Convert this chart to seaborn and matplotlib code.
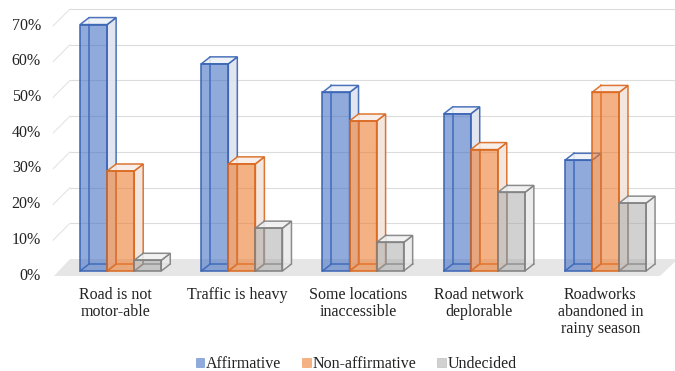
import numpy as np
import pandas as pd
import seaborn as sns
import matplotlib.pyplot as plt
from matplotlib.colors import to_rgb, to_rgba
from matplotlib.patches import Polygon, Patch
from matplotlib.lines import Line2D

# ---- data -------------------------------------------------------------
categories = [
    "Road is not\nmotor-able",
    "Traffic is heavy",
    "Some locations\ninaccessible",
    "Road network\ndeplorable",
    "Roadworks\nabandoned in\nrainy season",
]
responses = ["Affirmative", "Non-affirmative", "Undecided"]
affirmative = [69, 58, 50, 44, 31]
non_affirmative = [28, 30, 42, 34, 50]
undecided = [3, 12, 8, 22, 19]
y_ticks = [0, 10, 20, 30, 40, 50, 60, 70]
y_tick_labels = [f"{t}%" for t in y_ticks]

df = pd.DataFrame({
    "category": categories * 3,
    "response": [r for r in responses for _ in categories],
    "value": affirmative + non_affirmative + undecided,
})

# ---- style --------------------------------------------------------------
sns.set_theme(style="white")
plt.rcParams["font.family"] = ["Liberation Serif", "DejaVu Serif"]
FS = 11.5

base_colors = {"Affirmative": "#4472C4", "Non-affirmative": "#ED7D31", "Undecided": "#A5A5A5"}
edge_colors = {"Affirmative": "#3A64B4", "Non-affirmative": "#D9681F", "Undecided": "#808080"}
side_colors = {"Affirmative": "#DDE3EE", "Non-affirmative": "#F2E4DB", "Undecided": "#EAEAEA"}
top_colors = {"Affirmative": "#EEF1F7", "Non-affirmative": "#F8EEE8", "Undecided": "#F1F1F1"}
face_alpha = {"Affirmative": 0.6, "Non-affirmative": 0.6, "Undecided": 0.5}

W, H = 675, 371
fig = plt.figure(figsize=(W / 100, H / 100), dpi=100)
# axes placed so the bar front plane spans the plot area
ax = fig.add_axes([54 / W, (H - 271) / H, 606 / W, 250 / H])

sns.barplot(data=df, x="category", y="value", hue="response",
            hue_order=responses, order=categories,
            palette=base_colors, width=0.67, saturation=1,
            legend=False, ax=ax, zorder=3)
bars = list(ax.patches)

ax.set_xlim(-0.55, 4.45)
ax.set_ylim(0, 70)
ax.set_axis_off()

# depth of the oblique projection in pixels
DX, DY = 9, 7
GX, GY = 16, 12     # back wall offset
FX, FY = 0, -5      # floor front offset

to_px = ax.transData.transform
to_data = ax.transData.inverted().transform


def off(x, y, dx=0.0, dy=0.0):
    px, py = to_px((x, y))
    return tuple(to_data((px + dx, py + dy)))


x0, x1 = ax.get_xlim()

# floor
floor = Polygon([off(x0, 0, FX, FY), off(x1, 0, FX, FY),
                 off(x1, 0, GX + 2, GY), off(x0, 0, GX, GY)],
                closed=True, facecolor="#E6E6E6", edgecolor="none",
                zorder=0.5, clip_on=False)
ax.add_patch(floor)

# gridlines on back wall and left wall
for v in y_ticks[1:]:
    a = off(x0, v, GX, GY)
    b = off(x1, v, GX + 2, GY)
    ax.add_line(Line2D([a[0], b[0]], [a[1], b[1]], color="#DCDCDC",
                       lw=0.8, zorder=0.4, clip_on=False))
    c = off(x0, v, FX - 1, FY)
    ax.add_line(Line2D([c[0], a[0]], [c[1], a[1]], color="#E4E4E4",
                       lw=0.8, zorder=0.4, clip_on=False))


def closest_response(fc):
    best, bd = None, 1e9
    for r, col in base_colors.items():
        d = np.sum((np.array(fc[:3]) - np.array(to_rgb(col))) ** 2)
        if d < bd:
            best, bd = r, d
    return best


# 3D boxes built on the seaborn bars
for bar in bars:
    r = closest_response(bar.get_facecolor())
    bx0 = bar.get_x()
    bx1 = bx0 + bar.get_width()
    h = bar.get_height()
    ec = edge_colors[r]
    lw = 1.1
    z = 2 + 0.01 * bx0
    # hidden back edges
    p0 = off(bx0, 0, DX, DY)
    p1 = off(bx0, h, DX, DY)
    p2 = off(bx1, 0, DX, DY)
    for xs, ys in (([p0[0], p1[0]], [p0[1], p1[1]]),
                   ([p0[0], p2[0]], [p0[1], p2[1]]),
                   ([bx0, p0[0]], [0, p0[1]])):
        ax.add_line(Line2D(xs, ys, color=ec, lw=lw, zorder=z, clip_on=False))
    # side face
    side = Polygon([(bx1, 0), off(bx1, 0, DX, DY), off(bx1, h, DX, DY), (bx1, h)],
                   closed=True, facecolor=side_colors[r], edgecolor=ec,
                   lw=lw, alpha=0.9, zorder=z + 0.001, clip_on=False)
    ax.add_patch(side)
    top = Polygon([(bx0, h), (bx1, h), off(bx1, h, DX, DY), off(bx0, h, DX, DY)],
                  closed=True, facecolor=top_colors[r],
                  edgecolor=ec, lw=lw, alpha=0.9, zorder=z + 0.002, clip_on=False)
    ax.add_patch(top)
    # translucent front face
    bar.set_facecolor(to_rgba(base_colors[r], face_alpha[r]))
    bar.set_edgecolor(ec)
    bar.set_linewidth(lw)
    bar.set_zorder(z + 0.003)
    bar.set_clip_on(False)

# y labels on the front plane
for v, lab in zip(y_ticks, y_tick_labels):
    x, y = off(x0, v, -13, -4.5)
    ax.text(x, y, lab, ha="right", va="center", fontsize=FS, color="#222222",
            clip_on=False)

# category labels
for i, lab in enumerate(categories):
    x, y = off(i, 0, -5, -16)
    ax.text(x, y, lab, ha="center", va="top", fontsize=FS, color="#222222",
            linespacing=1.1, clip_on=False)

# legend
handles = [Patch(facecolor=to_rgba(base_colors[r], face_alpha[r]),
                 edgecolor=to_rgba(base_colors[r], 0.5), lw=0.6)
           for r in responses]
fig.legend(handles, responses, loc="center", bbox_to_anchor=(356 / W, 1 - 364 / H),
           ncol=3, frameon=False, fontsize=FS, handlelength=0.55, handleheight=0.55,
           handletextpad=0.1, columnspacing=1.3, labelcolor="#222222")

fig.savefig("out.png", dpi=100)
